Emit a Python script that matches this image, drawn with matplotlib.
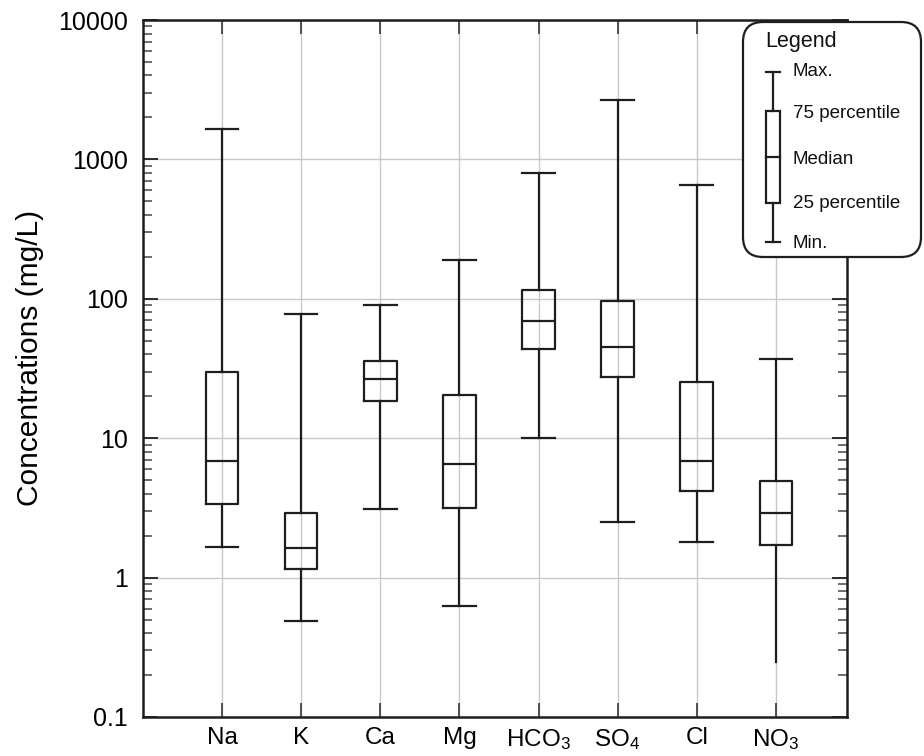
import matplotlib
matplotlib.use("Agg")
import matplotlib.pyplot as plt
from matplotlib.patches import FancyBboxPatch, Rectangle
from matplotlib.lines import Line2D
from matplotlib.ticker import FixedLocator, FixedFormatter, LogLocator, NullFormatter

plt.rcParams['font.family'] = ['Liberation Sans', 'DejaVu Sans']
plt.rcParams['mathtext.fontset'] = 'custom'
plt.rcParams['mathtext.rm'] = 'Liberation Sans'
plt.rcParams['mathtext.it'] = 'Liberation Sans'
plt.rcParams['mathtext.bf'] = 'Liberation Sans'

# ---- data (mg/L) ----
ions = ['Na', 'K', 'Ca', 'Mg', r'HCO$_\mathrm{3}$', r'SO$_\mathrm{4}$', 'Cl', r'NO$_\mathrm{3}$']
v_min = [1.66, 0.49, 3.1, 0.63, 10.0, 2.5, 1.8, 0.25]
v_q1 = [3.35, 1.15, 18.4, 3.16, 43.5, 27.6, 4.18, 1.70]
v_med = [6.9, 1.62, 26.5, 6.5, 69.0, 45.2, 6.9, 2.9]
v_q3 = [29.8, 2.93, 35.5, 20.4, 116.0, 96.8, 25.4, 4.9]
v_max = [1660.0, 78.0, 91.0, 190.0, 800.0, 2680.0, 650.0, 37.0]
ytick_vals = [0.1, 1, 10, 100, 1000, 10000]
ytick_labels = ['0.1', '1', '10', '100', '1000', '10000']

fig = plt.figure(figsize=(9.24, 7.56), dpi=100)
ax = fig.add_axes([143/924, 1-717/756, (847-143)/924, (717-20)/756])

positions = list(range(1, len(ions) + 1))
stats = []
for i in range(len(ions)):
    stats.append(dict(whislo=v_min[i], q1=v_q1[i], med=v_med[i], q3=v_q3[i],
                      whishi=v_max[i], fliers=[], label=ions[i]))

lw = 1.6
col = '#1e1e1e'
res = ax.bxp(stats, positions=positions, widths=0.41, capwidths=0.41,
             showfliers=False, patch_artist=False,
             boxprops=dict(color=col, linewidth=lw),
             whiskerprops=dict(color=col, linewidth=lw),
             capprops=dict(color=col, linewidth=lw),
             medianprops=dict(color=col, linewidth=lw), zorder=3)
# NO3 lower whisker has no cap
res['caps'][2 * (len(ions) - 1)].set_visible(False)

ax.set_yscale('log')
ax.set_ylim(0.1, 10000)
ax.set_xlim(0, 8.9)

ax.yaxis.set_major_locator(FixedLocator(ytick_vals))
ax.yaxis.set_major_formatter(FixedFormatter(ytick_labels))
ax.yaxis.set_minor_locator(LogLocator(base=10, subs=range(2, 10), numticks=20))
ax.yaxis.set_minor_formatter(NullFormatter())
ax.set_xticks(positions)
ax.set_xticklabels(ions)

ax.tick_params(axis='y', which='major', direction='in', length=11, width=1.3,
               left=True, right=True, labelsize=18, pad=11, color=col)
ax.tick_params(axis='y', which='minor', direction='in', length=6.5, width=1.2,
               left=True, right=True, color='#555555')
ax.tick_params(axis='x', which='major', direction='in', length=10, width=1.3,
               top=True, bottom=True, labelsize=17.5, pad=7, color='#444444')

ax.grid(True, which='major', color='#c8c8c8', linewidth=1.0, zorder=0)
ax.set_axisbelow(True)
for s in ax.spines.values():
    s.set_color(col)
    s.set_linewidth(1.8)

ax.set_ylabel('Concentrations (mg/L)', fontsize=21.5, va='center')
ax.yaxis.set_label_coords((30 - 143) / 704, (717 - 358) / 697)

# ---- legend panel (figure inches) ----
tr = fig.dpi_scale_trans
H = 7.56
def Y(px):
    return H - px / 100.0

box = FancyBboxPatch((7.43, Y(257)), 1.78, (257 - 22) / 100.0,
                     boxstyle='round,pad=0,rounding_size=0.2',
                     transform=tr, facecolor='white', edgecolor=col,
                     linewidth=1.6, zorder=10)
fig.patches.append(box)

wx = 7.73
lk = dict(transform=tr, color=col, linewidth=1.6, zorder=11)
fig.lines.append(Line2D([wx, wx], [Y(72), Y(111)], **lk))
fig.lines.append(Line2D([wx, wx], [Y(203), Y(242)], **lk))
fig.lines.append(Line2D([7.66, 7.80], [Y(72), Y(72)], **lk))
fig.lines.append(Line2D([7.66, 7.80], [Y(242), Y(242)], **lk))
fig.lines.append(Line2D([7.66, 7.80], [Y(157), Y(157)], **lk))
rect = Rectangle((7.66, Y(203)), 0.14, (203 - 111) / 100.0, transform=tr,
                 facecolor='none', edgecolor=col, linewidth=1.6, zorder=11)
fig.patches.append(rect)

fig.text(7.65, Y(41), 'Legend', transform=tr, fontsize=15.5, va='center',
         ha='left', zorder=12, color='#111111')
leg_labels = ['Max.', '75 percentile', 'Median', '25 percentile', 'Min.']
leg_y = [72, 113, 159, 204, 243]
for t, yy in zip(leg_labels, leg_y):
    fig.text(7.93, Y(yy), t, transform=tr, fontsize=13.5, va='center',
             ha='left', zorder=12, color='#111111')

fig.savefig('out.png', dpi=100)
